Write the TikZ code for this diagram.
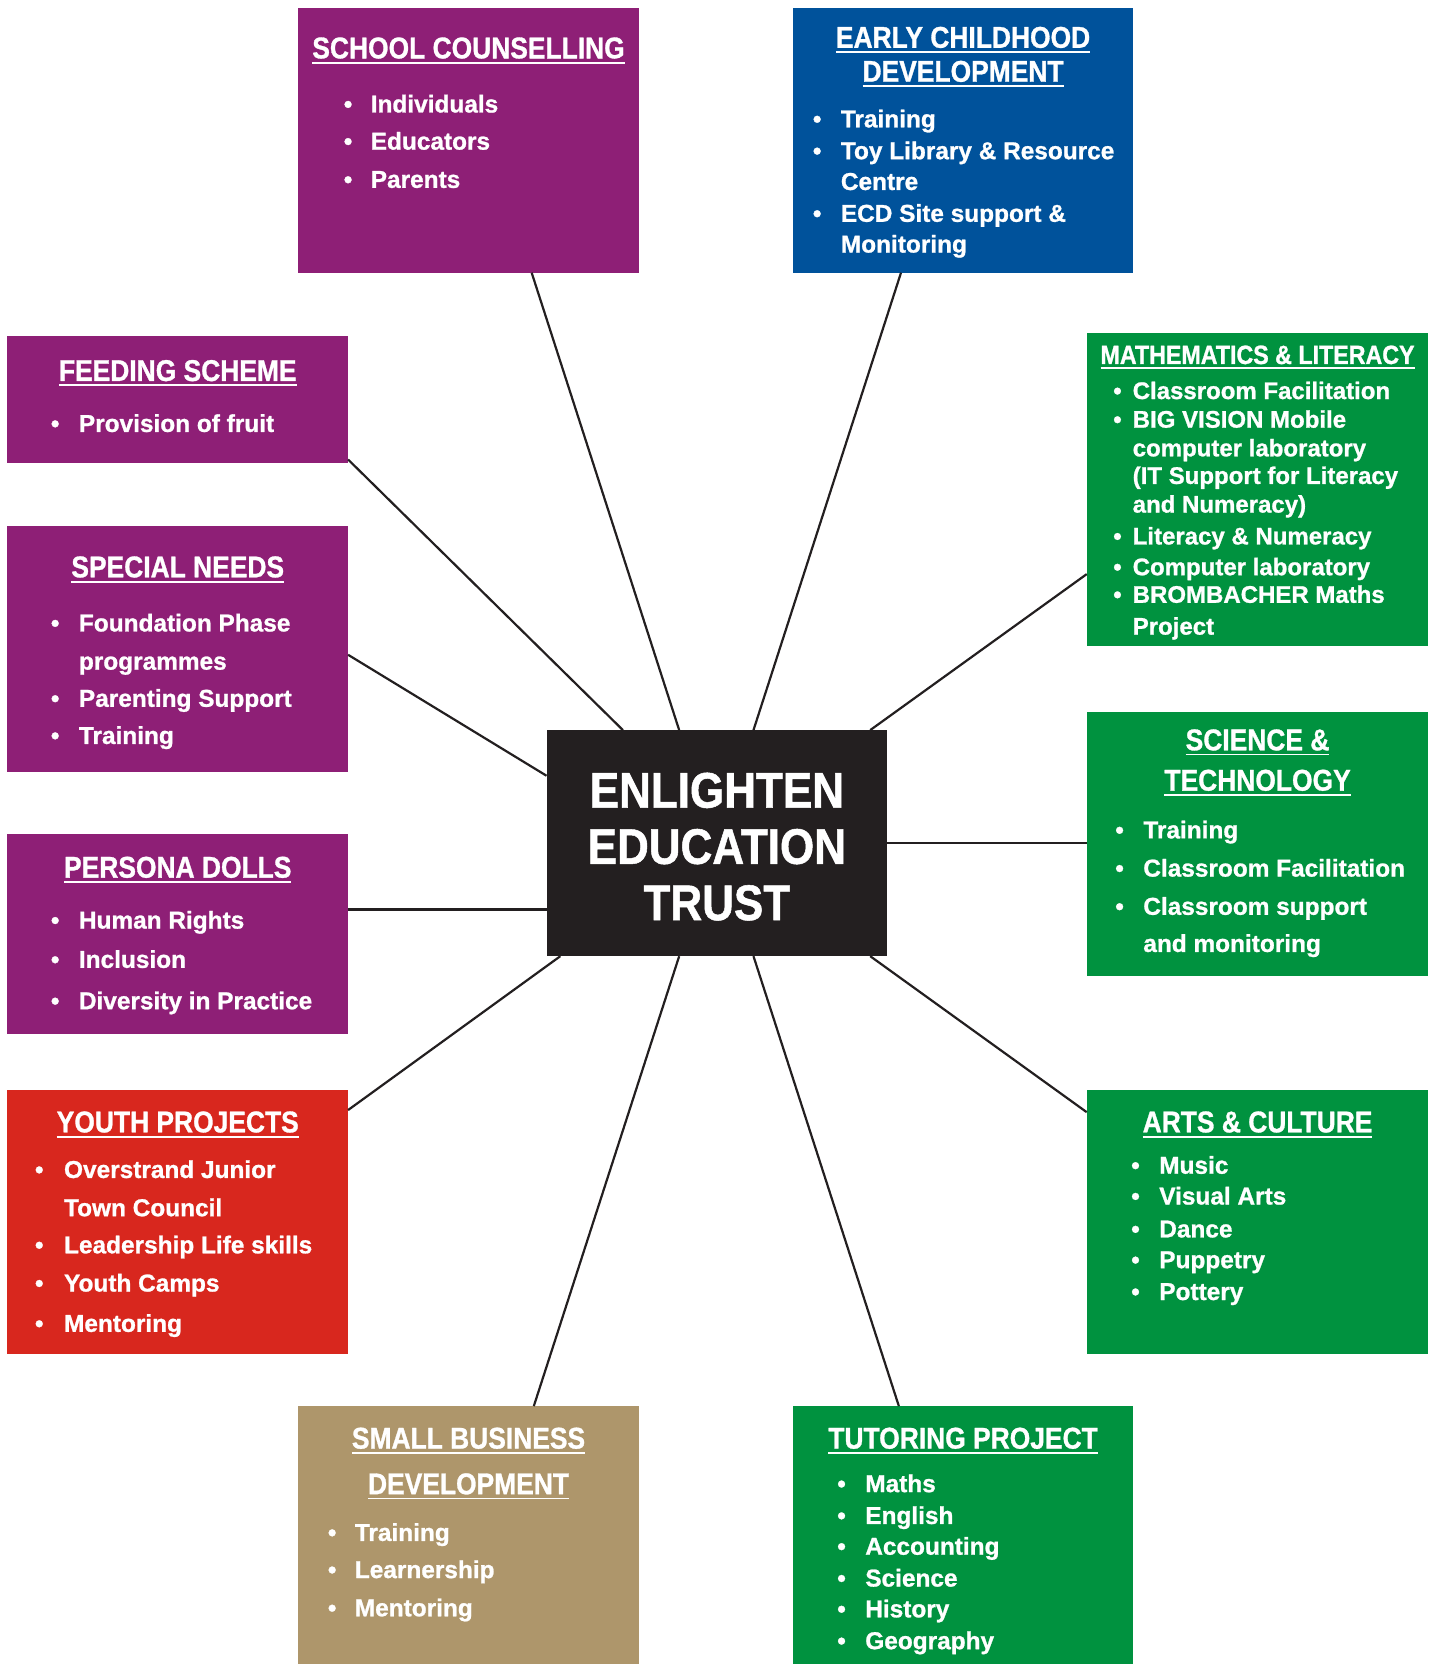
\documentclass[tikz,border=0pt]{standalone}
\usepackage{fontspec}
\setmainfont{Liberation Sans}[BoldFeatures={FakeBold=1}]
\newfontfamily\condf{Liberation Sans}[FakeStretch=0.88,BoldFeatures={FakeBold=1}]
\usetikzlibrary{calc}
\definecolor{cpurple}{RGB}{142,31,118}
\definecolor{cblue}{RGB}{0,82,155}
\definecolor{cgreen}{RGB}{0,146,63}
\definecolor{cred}{RGB}{216,39,30}
\definecolor{ctan}{RGB}{174,150,107}
\definecolor{cdark}{RGB}{35,31,32}
\newsavebox\ulbox
\newcommand\ultext[1]{\sbox\ulbox{#1}\rlap{\rule[-2.6pt]{\wd\ulbox}{0.9pt}}\usebox\ulbox}
\begin{document}
\begin{tikzpicture}[x=0.5306pt,y=-0.5306pt,
  panel/.style 2 args={draw=none,inner sep=0pt,outer sep=0pt,minimum width=#1*0.5306pt,minimum height=#2*0.5306pt},
  ttl/.style={anchor=base,inner sep=0pt,text=white,font=\condf\bfseries\fontsize{15}{18}\selectfont},
  mttl/.style={ttl,font=\condf\bfseries\fontsize{13.2}{16}\selectfont},
  itm/.style={anchor=base west,inner sep=0pt,text=white,font=\bfseries\fontsize{12.2}{14}\selectfont},
  bul/.style={anchor=base,inner sep=0pt,text=white,font=\bfseries\fontsize{12.2}{14}\selectfont},
  mitm/.style={itm,font=\bfseries\fontsize{12}{14}\selectfont},
  mbul/.style={bul,font=\bfseries\fontsize{12}{14}\selectfont},
  ctxt/.style={anchor=base,inner sep=0pt,text=white,font=\condf\bfseries\fontsize{25}{30}\selectfont},
  link/.style={draw=cdark,line width=1.1pt}]
\useasboundingbox[fill=white] (0,0) rectangle (1355,1568);

% panels
\node[panel={321}{249},fill=cpurple] (sc) at (441.5,132.5) {};
\node[panel={321}{249},fill=cblue] (ecd) at (907.5,132.5) {};
\node[panel={321}{119},fill=cpurple] (fs) at (167.5,376.5) {};
\node[panel={321}{231},fill=cpurple] (sn) at (167.5,611.5) {};
\node[panel={321}{188},fill=cpurple] (pd) at (167.5,880) {};
\node[panel={321}{249},fill=cred] (yp) at (167.5,1151.5) {};
\node[panel={322}{295},fill=cgreen] (ml) at (1185,461.5) {};
\node[panel={322}{249},fill=cgreen] (st) at (1185,795.5) {};
\node[panel={322}{249},fill=cgreen] (ac) at (1185,1151.5) {};
\node[panel={321}{243},fill=ctan] (sb) at (441.5,1446.5) {};
\node[panel={321}{243},fill=cgreen] (tp) at (907.5,1446.5) {};
\node[panel={321}{213},fill=cdark] (ct) at (675.5,794.5) {};

% connectors
\draw[link] ($(sc.south west)+(220,0)$) -- ($(ct.north west)+(125,0)$);
\draw[link] ($(ecd.south west)+(102,0)$) -- ($(ct.north west)+(195,0)$);
\draw[link] ($(fs.north east)+(0,116)$) -- ($(ct.north west)+(72,0)$);
\draw[link] ($(sn.north east)+(0,121)$) -- ($(ct.north west)+(0,43)$);
\draw[link] ($(ml.north west)+(0,227)$) -- ($(ct.north west)+(305,0)$);
\draw[link] ($(st.north west)+(0,123)$) -- ($(ct.north east)+(0,106)$);
\draw[link] ($(pd.north east)+(0,71)$) -- ($(ct.north west)+(0,169)$);
\draw[link] ($(yp.north east)+(0,19)$) -- ($(ct.south west)+(13,0)$);
\draw[link] ($(ac.north west)+(0,21)$) -- ($(ct.south west)+(305,0)$);
\draw[link] ($(sb.north west)+(222,0)$) -- ($(ct.south west)+(125,0)$);
\draw[link] ($(tp.north west)+(100,0)$) -- ($(ct.south west)+(195,0)$);

% centre
\node[ctxt] (ct1) at (675.5,761) {ENLIGHTEN};
\node[ctxt] (ct2) at (675.5,814) {EDUCATION};
\node[ctxt] (ct3) at (675.5,867) {TRUST};

% school counselling
\node[ttl] (sct) at (441.5,55) {\ultext{SCHOOL COUNSELLING}};
\node[bul] (scb1) at (328,106) {•}; \node[itm] (sci1) at (349,106) {Individuals};
\node[bul] (scb2) at (328,141) {•}; \node[itm] (sci2) at (349,141) {Educators};
\node[bul] (scb3) at (328,177) {•}; \node[itm] (sci3) at (349,177) {Parents};

% early childhood
\node[ttl] (ecdt1) at (907.5,45) {\ultext{EARLY CHILDHOOD}};
\node[ttl] (ecdt2) at (907.5,77) {\ultext{DEVELOPMENT}};
\node[bul] (ecdb1) at (770,120) {•}; \node[itm] (ecdi1) at (792,120) {Training};
\node[bul] (ecdb2) at (770,150) {•}; \node[itm] (ecdi2) at (792,150) {Toy Library \& Resource};
\node[itm] (ecdi3) at (792,179) {Centre};
\node[bul] (ecdb4) at (770,209) {•}; \node[itm] (ecdi4) at (792,209) {ECD Site support \&};
\node[itm] (ecdi5) at (792,238) {Monitoring};

% feeding scheme
\node[ttl] (fst) at (167.5,359) {\ultext{FEEDING SCHEME}};
\node[bul] (fsb1) at (52,407) {•}; \node[itm] (fsi1) at (74,407) {Provision of fruit};

% special needs
\node[ttl] (snt) at (167.5,544) {\ultext{SPECIAL NEEDS}};
\node[bul] (snb1) at (52,595) {•}; \node[itm] (sni1) at (74,595) {Foundation Phase};
\node[itm] (sni2) at (74,631) {programmes};
\node[bul] (snb3) at (52,666) {•}; \node[itm] (sni3) at (74,666) {Parenting Support};
\node[bul] (snb4) at (52,701) {•}; \node[itm] (sni4) at (74,701) {Training};

% persona dolls
\node[ttl] (pdt) at (167.5,827) {\ultext{PERSONA DOLLS}};
\node[bul] (pdb1) at (52,875) {•}; \node[itm] (pdi1) at (74,875) {Human Rights};
\node[bul] (pdb2) at (52,912) {•}; \node[itm] (pdi2) at (74,912) {Inclusion};
\node[bul] (pdb3) at (52,951) {•}; \node[itm] (pdi3) at (74,951) {Diversity in Practice};

% youth projects
\node[ttl] (ypt) at (167.5,1067) {\ultext{YOUTH PROJECTS}};
\node[bul] (ypb1) at (37,1110) {•}; \node[itm] (ypi1) at (60,1110) {Overstrand Junior};
\node[itm] (ypi2) at (60,1146) {Town Council};
\node[bul] (ypb3) at (37,1181) {•}; \node[itm] (ypi3) at (60,1181) {Leadership Life skills};
\node[bul] (ypb4) at (37,1217) {•}; \node[itm] (ypi4) at (60,1217) {Youth Camps};
\node[bul] (ypb5) at (37,1255) {•}; \node[itm] (ypi5) at (60,1255) {Mentoring};

% mathematics & literacy
\node[mttl] (mlt) at (1185,343) {\ultext{MATHEMATICS \& LITERACY}};
\node[mbul] (mlb1) at (1053,376) {•}; \node[mitm] (mli1) at (1067,376) {Classroom Facilitation};
\node[mbul] (mlb2) at (1053,403) {•}; \node[mitm] (mli2) at (1067,403) {BIG VISION Mobile};
\node[mitm] (mli3) at (1067,430) {computer laboratory};
\node[mitm] (mli4) at (1067,456) {(IT Support for Literacy};
\node[mitm] (mli5) at (1067,483) {and Numeracy)};
\node[mbul] (mlb6) at (1053,513) {•}; \node[mitm] (mli6) at (1067,513) {Literacy \& Numeracy};
\node[mbul] (mlb7) at (1053,542) {•}; \node[mitm] (mli7) at (1067,542) {Computer laboratory};
\node[mbul] (mlb8) at (1053,568) {•}; \node[mitm] (mli8) at (1067,568) {BROMBACHER Maths};
\node[mitm] (mli9) at (1067,598) {Project};

% science & technology
\node[ttl] (stt1) at (1185,707) {\ultext{SCIENCE \&}};
\node[ttl] (stt2) at (1185,745) {\ultext{TECHNOLOGY}};
\node[bul] (stb1) at (1055,790) {•}; \node[itm] (sti1) at (1077,790) {Training};
\node[bul] (stb2) at (1055,826) {•}; \node[itm] (sti2) at (1077,826) {Classroom Facilitation};
\node[bul] (stb3) at (1055,862) {•}; \node[itm] (sti3) at (1077,862) {Classroom support};
\node[itm] (sti4) at (1077,897) {and monitoring};

% arts & culture
\node[ttl] (act) at (1185,1067) {\ultext{ARTS \& CULTURE}};
\node[bul] (acb1) at (1070,1106) {•}; \node[itm] (aci1) at (1092,1106) {Music};
\node[bul] (acb2) at (1070,1135) {•}; \node[itm] (aci2) at (1092,1135) {Visual Arts};
\node[bul] (acb3) at (1070,1166) {•}; \node[itm] (aci3) at (1092,1166) {Dance};
\node[bul] (acb4) at (1070,1195) {•}; \node[itm] (aci4) at (1092,1195) {Puppetry};
\node[bul] (acb5) at (1070,1225) {•}; \node[itm] (aci5) at (1092,1225) {Pottery};

% small business
\node[ttl] (sbt1) at (441.5,1365) {\ultext{SMALL BUSINESS}};
\node[ttl] (sbt2) at (441.5,1408) {\ultext{DEVELOPMENT}};
\node[bul] (sbb1) at (313,1452) {•}; \node[itm] (sbi1) at (334,1452) {Training};
\node[bul] (sbb2) at (313,1487) {•}; \node[itm] (sbi2) at (334,1487) {Learnership};
\node[bul] (sbb3) at (313,1523) {•}; \node[itm] (sbi3) at (334,1523) {Mentoring};

% tutoring project
\node[ttl] (tpt) at (907.5,1365) {\ultext{TUTORING PROJECT}};
\node[bul] (tpb1) at (793,1406) {•}; \node[itm] (tpi1) at (815,1406) {Maths};
\node[bul] (tpb2) at (793,1436) {•}; \node[itm] (tpi2) at (815,1436) {English};
\node[bul] (tpb3) at (793,1465) {•}; \node[itm] (tpi3) at (815,1465) {Accounting};
\node[bul] (tpb4) at (793,1495) {•}; \node[itm] (tpi4) at (815,1495) {Science};
\node[bul] (tpb5) at (793,1524) {•}; \node[itm] (tpi5) at (815,1524) {History};
\node[bul] (tpb6) at (793,1554) {•}; \node[itm] (tpi6) at (815,1554) {Geography};
\end{tikzpicture}
\end{document}
